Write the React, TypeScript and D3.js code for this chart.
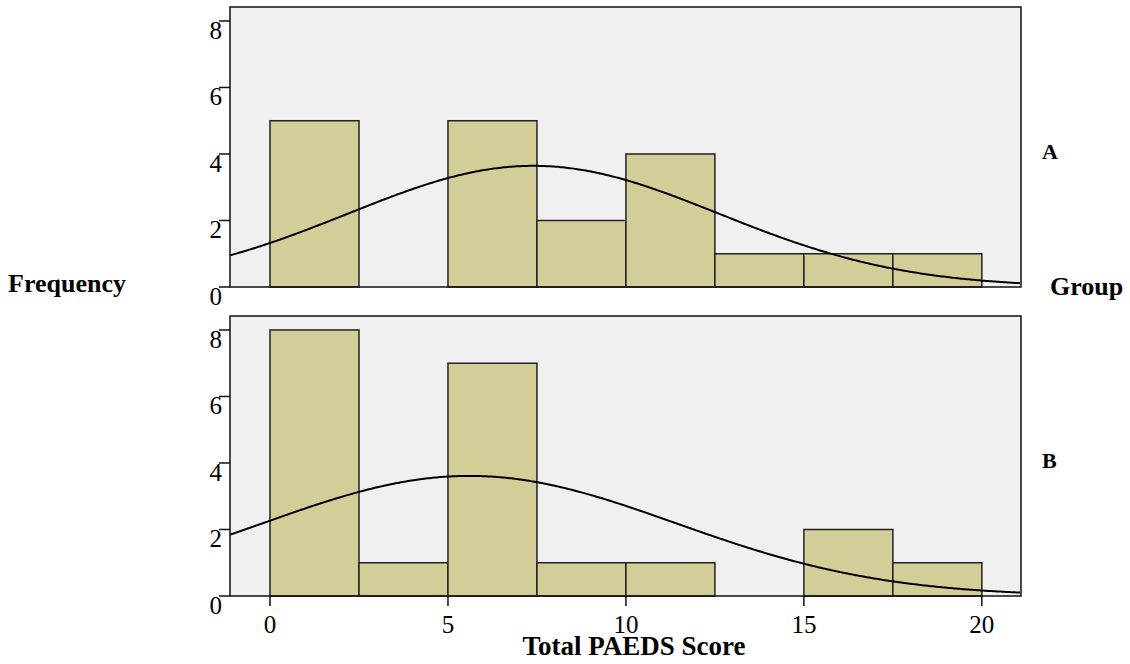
import React from 'react';
import * as d3 from 'd3';

// histogram bins (lower edges), bin width 2.5
const binStarts = [0, 2.5, 5, 7.5, 10, 12.5, 15, 17.5];
const binWidth = 2.5;
const groups = ['A', 'B'];
const countsA = [5, 0, 5, 2, 4, 1, 1, 1];
const countsB = [8, 1, 7, 1, 1, 0, 2, 1];
// normal curve fit (mean, sd)
const fitA = [7.4, 5.2];
const fitB = [5.6, 5.8];
const yTicks = [0, 2, 4, 6, 8];
const xTicks = [0, 5, 10, 15, 20];

const W = 1130;
const H = 664;
const left = 230;
const right = 1021;
const panelTops = [7, 316];
const panelH = 280;
const font = '"Liberation Serif", "Times New Roman", serif';

const x = d3.scaleLinear().domain([-1.124, 21.1]).range([left, right]);

function Panel({ counts, fit, top, label, showX }) {
  const bottom = top + panelH;
  const y = d3.scaleLinear().domain([0, 8.42]).range([bottom, top]);
  const total = d3.sum(counts);
  const [mu, sd] = fit;
  const xs = d3.range(-1.124, 21.11, 0.05);
  const curve = d3
    .line<number>()
    .x((v) => x(v))
    .y((v) => y((total * binWidth * Math.exp(-((v - mu) ** 2) / (2 * sd * sd))) / (sd * Math.sqrt(2 * Math.PI))));
  const clipId = `clip-${label}`;
  return (
    <g>
      <defs>
        <clipPath id={clipId}>
          <rect x={left} y={top} width={right - left} height={panelH} />
        </clipPath>
      </defs>
      <rect x={left} y={top} width={right - left} height={panelH} fill="#f0f0f0" stroke="none" />
      {counts.map((c, i) =>
        c > 0 ? (
          <rect
            key={i}
            x={x(binStarts[i])}
            y={y(c)}
            width={x(binStarts[i] + binWidth) - x(binStarts[i])}
            height={y(0) - y(c)}
            fill="#d3ce97"
            stroke="#222"
            strokeWidth={1.5}
          />
        ) : null
      )}
      <path d={curve(xs) || ''} fill="none" stroke="#000" strokeWidth={2} clipPath={`url(#${clipId})`} />
      <rect x={left} y={top} width={right - left} height={panelH} fill="none" stroke="#111" strokeWidth={1.5} />
      {yTicks.map((t) => (
        <g key={t}>
          <line x1={left - 11} x2={left} y1={y(t)} y2={y(t)} stroke="#111" strokeWidth={1.5} />
          <text x={222} y={y(t) + 18} textAnchor="end" fontSize={25} fontFamily={font}>
            {t}
          </text>
        </g>
      ))}
      {showX &&
        xTicks.map((t) => (
          <g key={t}>
            <line x1={x(t)} x2={x(t)} y1={bottom} y2={bottom + 10} stroke="#111" strokeWidth={1.5} />
            <text x={x(t)} y={bottom + 37} textAnchor="middle" fontSize={25} fontFamily={font}>
              {t}
            </text>
          </g>
        ))}
      <text x={1042} y={top + 152} fontSize={22} fontWeight="bold" fontFamily={font}>
        {label}
      </text>
    </g>
  );
}

export default function App() {
  return (
    <svg width={W} height={H} style={{ position: 'absolute', left: 0, top: 0, background: '#fff' }}>
      <Panel counts={countsA} fit={fitA} top={panelTops[0]} label={groups[0]} showX={false} />
      <Panel counts={countsB} fit={fitB} top={panelTops[1]} label={groups[1]} showX={true} />
      <text x={8} y={292} fontSize={26} fontWeight="bold" fontFamily={font}>
        Frequency
      </text>
      <text x={1050} y={295} fontSize={26} fontWeight="bold" fontFamily={font}>
        Group
      </text>
      <text x={634} y={655} textAnchor="middle" fontSize={27} fontWeight="bold" fontFamily={font}>
        Total PAEDS Score
      </text>
    </svg>
  );
}
